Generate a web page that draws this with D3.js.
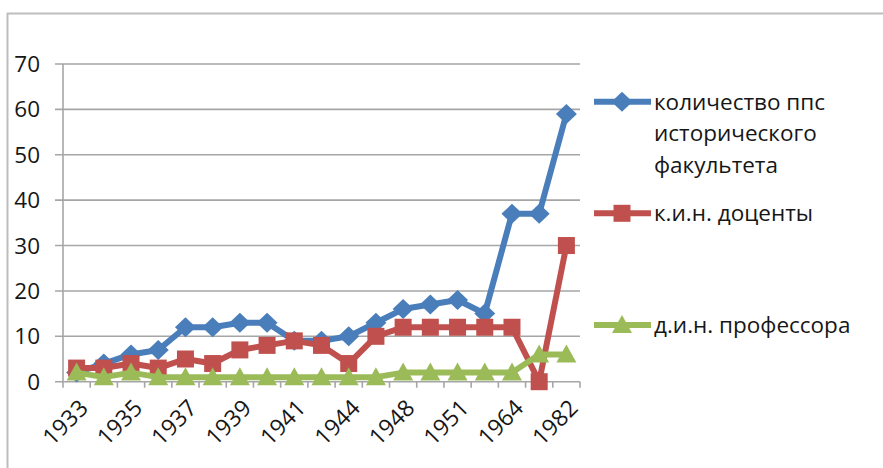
<!DOCTYPE html>
<html><head><meta charset="utf-8">
<script src="https://cdn.jsdelivr.net/npm/d3@7"></script>
<style>
html,body{margin:0;padding:0;background:#fff;}
svg{display:block;}
text{font-family:"Open Sans","Liberation Sans",sans-serif;fill:#161616;}
</style></head>
<body>
<svg id="chart" width="883" height="468"></svg>
<script>
const years = ["1933","1934","1935","1936","1937","1938","1939","1940","1941","1942","1944","1946","1948","1950","1951","1960","1964","1970","1982"];
const shownYears = ["1933","1935","1937","1939","1941","1944","1948","1951","1964","1982"];
const totalStaff = [2,4,6,7,12,12,13,13,9,9,10,13,16,17,18,15,37,37,59];
const docents    = [3,3,4,3,5,4,7,8,9,8,4,10,12,12,12,12,12,0,30];
const professors = [2,1,2,1,1,1,1,1,1,1,1,1,2,2,2,2,2,6,6];
const seriesNames = [["количество ппс","исторического","факультета"],["к.и.н. доценты"],["д.и.н. профессора"]];
const yTicks = [0,10,20,30,40,50,60,70];

(function(){
const svg = d3.select("#chart");
const pL = 63, pR = 580, pT = 64, pB = 381.7;
const x = d3.scaleBand().domain(years).range([pL, pR]).padding(0);
const y = d3.scaleLinear().domain([0,70]).range([pB, pT]);
const grid = "#a6a6a6";
const fs = "22.5px";

svg.append("rect").attr("x",7.5).attr("y",13.5).attr("width",900).attr("height",500)
  .attr("fill","none").attr("stroke","#bdbdbd").attr("stroke-width",2);

svg.append("g").selectAll("line").data(yTicks).join("line")
  .attr("x1",pL-8).attr("x2",pR).attr("y1",d=>y(d)).attr("y2",d=>y(d))
  .attr("stroke",grid).attr("stroke-width",1.6);
svg.append("line").attr("x1",pL).attr("x2",pL).attr("y1",pT).attr("y2",pB)
  .attr("stroke",grid).attr("stroke-width",1.6);
svg.append("g").selectAll("text").data(yTicks).join("text")
  .attr("x",40).attr("y",d=>y(d)).attr("dy","0.36em").attr("text-anchor","end")
  .style("font-size",fs).text(d=>d);

const bounds = years.map(d=>x(d)).concat([x(years[years.length-1])+x.bandwidth()]);
svg.append("g").selectAll("line").data(bounds).join("line")
  .attr("x1",d=>d).attr("x2",d=>d).attr("y1",pB).attr("y2",pB+6)
  .attr("stroke",grid).attr("stroke-width",1.6);

const cx = d => x(d) + x.bandwidth()/2;
svg.append("g").selectAll("text").data(shownYears).join("text")
  .attr("transform",d=>`translate(${cx(d)+7},${pB+22}) rotate(-45)`)
  .attr("text-anchor","end").attr("dy","0.36em")
  .style("font-size","23px").text(d=>d);

const colors = ["#4a7ebb","#c0504d","#9bbb59"];
const data = [totalStaff, docents, professors];
const markerPath = [
  "M0,-10L10.5,0L0,10L-10.5,0Z",
  "M-8.5,-8.5H8.5V8.5H-8.5Z",
  "M0,-10L10,8H-10Z"
];
const line = d3.line().x((d,i)=>cx(years[i])).y(d=>y(d));

data.forEach((vals,s)=>{
  const g = svg.append("g");
  g.append("path").attr("d",line(vals)).attr("fill","none")
    .attr("stroke",colors[s]).attr("stroke-width",6).attr("stroke-linejoin","round");
  g.selectAll("path.m").data(vals).join("path").attr("class","m")
    .attr("d",markerPath[s]).attr("fill",colors[s])
    .attr("transform",(d,i)=>`translate(${cx(years[i])},${y(d)})`);
});

const legY = [101.7, 213.3, 325];
seriesNames.forEach((names,s)=>{
  const g = svg.append("g");
  g.append("line").attr("x1",594).attr("x2",651).attr("y1",legY[s]).attr("y2",legY[s])
    .attr("stroke",colors[s]).attr("stroke-width",6);
  g.append("path").attr("d",markerPath[s]).attr("fill",colors[s])
    .attr("transform",`translate(622,${legY[s]})`);
  names.forEach((t,k)=>{
    g.append("text").attr("x",654).attr("y",legY[s]+k*31.5).attr("dy","0.36em")
      .style("font-size",fs).text(t);
  });
});
})();
</script>
</body></html>
